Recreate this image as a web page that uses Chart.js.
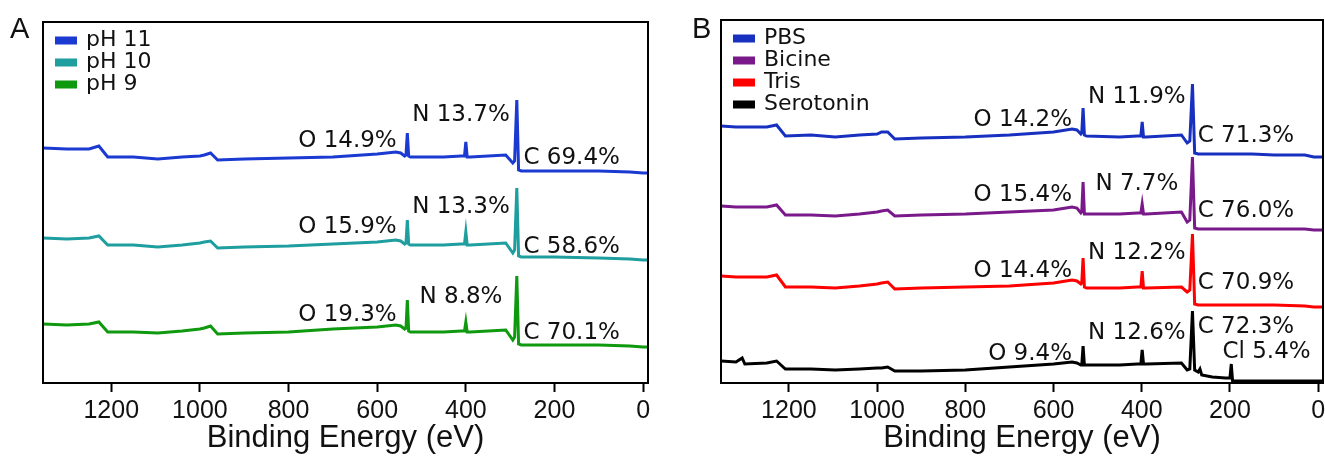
<!DOCTYPE html>
<html>
<head>
<meta charset="utf-8">
<script src="https://cdn.jsdelivr.net/npm/chart.js@4.4.0/dist/chart.umd.min.js"></script>
<style>
  html, body { margin: 0; padding: 0; background: #fff; }
  #wrap { position: relative; width: 1325px; height: 457px; }
  #chartA { position: absolute; left: 0; top: 0; }
  #chartB { position: absolute; left: 660px; top: 0; }
</style>
</head>
<body>
<div id="wrap">
  <canvas id="chartA" width="660" height="457"></canvas>
  <canvas id="chartB" width="665" height="457"></canvas>
</div>
<script>
// Binding energy axis (eV), shared by both panels
const xTicks = [0, 200, 400, 600, 800, 1000, 1200];
const xMin = -11;
const xMax = 1354;

// Panel A: sample points (eV) and stacked intensities (a.u.)
const energyA = [1354, 1300, 1250, 1228, 1208, 1150, 1095, 1040, 1000, 990, 976, 960, 900, 800, 700, 600,
  558, 547, 538, 535, 532, 529, 525, 450, 410, 403, 400, 397, 390, 310, 294, 290, 285, 281, 275, 200, 100, 30, 0, -11];
const pH11 = [235, 234, 234, 237, 226, 226, 224, 226, 227, 228, 230, 223, 224, 225, 226, 229,
  231, 230, 227, 228, 250, 227, 226, 226, 227, 227, 241, 226, 226, 228, 220, 222, 283, 213, 212, 212, 212, 211, 210, 210];
const pH10 = [145, 144, 145, 147, 138, 138, 136, 138, 140, 141, 142, 135, 136, 137, 139, 141,
  143, 142, 139, 140, 163, 139, 138, 138, 139, 139, 151, 138, 138, 140, 130, 133, 195, 127, 126, 126, 125, 124, 123, 123];
const pH9 = [59, 58, 59, 61, 51, 51, 50, 52, 54, 55, 57, 49, 50, 51, 54, 56,
  58, 57, 54, 55, 83, 52, 51, 51, 52, 52, 61, 51, 51, 53, 43, 46, 107, 39, 38, 38, 38, 37, 36, 36];
const namesA = ['pH 11', 'pH 10', 'pH 9'];
const oLabelsA = ['O 14.9%', 'O 15.9%', 'O 19.3%'];
const nLabelsA = ['N 13.7%', 'N 13.3%', 'N 8.8%'];
const cLabelsA = ['C 69.4%', 'C 58.6%', 'C 70.1%'];

// Panel B
const energyB = [1354, 1320, 1306, 1300, 1250, 1228, 1208, 1150, 1095, 1040, 1000, 990, 976, 960, 900, 800, 700, 600,
  558, 547, 538, 536, 533, 530, 525, 450, 410, 402, 399, 396, 390, 310, 297, 291, 285, 280, 272, 268, 264,
  240, 210, 200, 197, 194, 150, 100, 30, 10, -11];
const pbs = [257, 256, 256, 256, 256, 258, 247, 248, 246, 248, 249, 251, 251, 244, 245, 246, 248, 251,
  254, 253, 249, 250, 275, 248, 247, 246, 247, 247, 261, 246, 246, 248, 240, 242, 299, 230, 229, 229, 229,
  229, 229, 229, 229, 229, 229, 228, 228, 226, 226];
const bicine = [177, 176, 176, 176, 176, 178, 168, 168, 167, 169, 171, 172, 173, 167, 168, 169, 171, 173,
  176, 175, 170, 171, 201, 169, 169, 169, 170, 170, 179, 169, 169, 171, 161, 163, 226, 155, 154, 154, 154,
  154, 154, 154, 154, 154, 154, 154, 154, 153, 153];
const tris = [107, 106, 106, 106, 106, 108, 96, 96, 95, 97, 99, 100, 101, 94, 95, 96, 97, 100,
  103, 102, 99, 100, 125, 96, 95, 95, 96, 96, 112, 95, 95, 96, 91, 93, 149, 79, 78, 78, 78,
  78, 78, 78, 78, 78, 78, 78, 77, 76, 76];
const serotonin = [22, 21, 25, 19, 20, 22, 14, 14, 13, 14, 15, 15, 16, 12, 12, 13, 16, 19,
  21, 20, 18, 18, 37, 18, 18, 18, 19, 19, 33, 19, 19, 20, 13, 14, 72, 13, 11, 14, 8,
  6, 5, 5, 19, 2, 2, 2, 2, 2, 2];
const namesB = ['PBS', 'Bicine', 'Tris', 'Serotonin'];
const oLabelsB = ['O 14.2%', 'O 15.4%', 'O 14.4%', 'O 9.4%'];
const nLabelsB = ['N 11.9%', 'N 7.7%', 'N 12.2%', 'N 12.6%'];
const cLabelsB = ['C 71.3%', 'C 76.0%', 'C 70.9%', 'C 72.3%'];
const clLabelsB = ['Cl 5.4%'];

// where the percentages sit (eV, a.u.)
function placeNotes(texts, x, ys, align) {
  return texts.map((t, i) => ({ text: t, x: x, y: ys[i], align: align }));
}
const notesA = [].concat(
  placeNotes(oLabelsA, 556, [242, 156, 68], 'right'),
  placeNotes(nLabelsA, 411, [268, 176, 86], 'center'),
  placeNotes(cLabelsA, 270, [225, 136, 50], 'left')
);
const notesB = [].concat(
  placeNotes(oLabelsB, 558, [263, 188, 112, 29], 'right'),
  placeNotes(nLabelsB, 411, [286, 199, 130, 50], 'center'),
  placeNotes(cLabelsB, 273, [247, 172, 100, 56], 'left'),
  placeNotes(clLabelsB, 217, [31], 'left')
);

// frame, panel letter, legend and peak labels
const panelDecor = {
  id: 'panelDecor',
  afterDatasetsDraw(chart, args, opts) {
    const { ctx, chartArea: a, scales: { x, y } } = chart;
    ctx.save();
    ctx.strokeStyle = '#000';
    ctx.lineWidth = 2;
    ctx.strokeRect(a.left, a.top, a.right - a.left, a.bottom - a.top);

    ctx.fillStyle = '#111';
    ctx.font = '29px "Liberation Sans", Arial, sans-serif';
    ctx.textAlign = 'left';
    ctx.textBaseline = 'alphabetic';
    ctx.fillText(opts.letter, opts.letterX, 38);

    ctx.font = '22px "DejaVu Sans", sans-serif';
    ctx.textBaseline = 'middle';
    chart.data.datasets.forEach((ds, i) => {
      const cy = a.top + 18.5 + i * 22;
      ctx.fillStyle = ds.borderColor;
      ctx.fillRect(a.left + 12, cy - 4, 22, 8);
      ctx.fillStyle = '#111';
      ctx.fillText(ds.label, a.left + 43, cy);
    });

    ctx.font = '23px "DejaVu Sans", sans-serif';
    opts.notes.forEach(n => {
      ctx.textAlign = n.align;
      ctx.fillText(n.text, x.getPixelForValue(n.x), y.getPixelForValue(n.y));
    });
    ctx.restore();
  }
};

function makeChart(id, energy, series, names, colors, yMax, pad, decor) {
  return new Chart(document.getElementById(id), {
    type: 'line',
    data: {
      datasets: series.map((s, i) => ({
        label: names[i],
        data: energy.map((e, k) => ({ x: e, y: s[k] })),
        borderColor: colors[i],
        backgroundColor: colors[i],
        borderWidth: 3,
        pointRadius: 0,
        tension: 0
      }))
    },
    options: {
      responsive: false,
      animation: false,
      layout: { padding: pad },
      plugins: {
        legend: { display: false },
        tooltip: { enabled: false },
        panelDecor: decor
      },
      scales: {
        x: {
          type: 'linear',
          reverse: true,
          min: xMin,
          max: xMax,
          afterBuildTicks: s => { s.ticks = xTicks.map(v => ({ value: v })); },
          afterFit: s => { s.height = 74; },
          grid: { drawOnChartArea: false, drawTicks: true, tickLength: 9, tickWidth: 2, tickColor: '#000' },
          border: { display: false },
          ticks: {
            autoSkip: false,
            maxRotation: 0,
            padding: 4,
            color: '#111',
            font: { family: '"Liberation Sans", Arial, sans-serif', size: 25 },
            callback: v => String(v)
          },
          title: {
            display: true,
            text: 'Binding Energy (eV)',
            color: '#111',
            font: { family: '"Liberation Sans", Arial, sans-serif', size: 31 },
            padding: { top: 0, bottom: 0 }
          }
        },
        y: { display: false, min: 0, max: yMax }
      }
    },
    plugins: [panelDecor]
  });
}

makeChart('chartA', energyA, [pH11, pH10, pH9], namesA,
  ['#1a3ad2', '#1e9e9e', '#0f990f'], 361,
  { left: 43, right: 12, top: 22, bottom: 0 },
  { letter: 'A', letterX: 10, notes: notesA });

makeChart('chartB', energyB, [pbs, bicine, tris, serotonin], namesB,
  ['#1830c0', '#7a1a8a', '#ff0000', '#000000'], 363,
  { left: 61, right: 2, top: 20, bottom: 0 },
  { letter: 'B', letterX: 32, notes: notesB });
</script>
</body>
</html>
